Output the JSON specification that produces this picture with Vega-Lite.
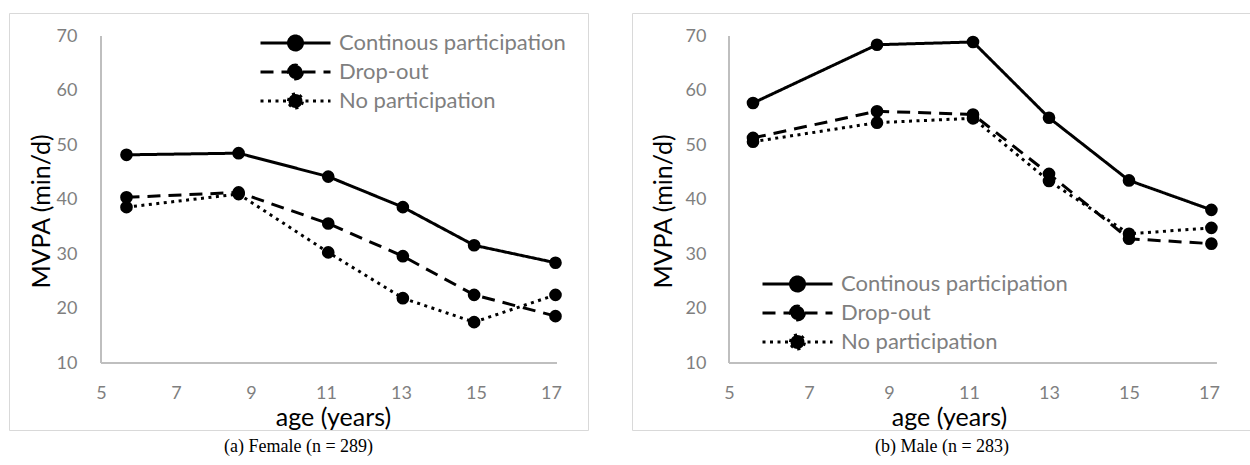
{
  "$schema": "https://vega.github.io/schema/vega-lite/v6.json",
  "background": "white",
  "padding": {"left": 8, "top": 12, "right": 0, "bottom": 0},
  "config": {
    "view": {"stroke": "#d9d9d9", "strokeWidth": 1},
    "font": "Lato",
    "axis": {
      "domain": false, "ticks": false, "tickSize": 0, "grid": false,
      "labelFont": "Lato", "labelFontSize": 18, "labelColor": "#7f7f7f",
      "labelOverlap": false, "labelFlush": false,
      "titleFont": "Lato", "titleFontSize": 25, "titleFontWeight": "normal", "titleColor": "#000000",
      "titleAlign": "center", "titleBaseline": "middle"
    },
    "legend": {
      "labelFont": "Lato", "labelFontSize": 22, "labelColor": "#7f7f7f", "labelLimit": 500,
      "padding": 0, "rowPadding": 0, "labelOffset": 7
    },
    "title": {"font": "Liberation Serif", "fontSize": 18, "fontWeight": "normal", "color": "#000000", "orient": "bottom", "anchor": "middle", "baseline": "top", "offset": 8}
  },
  "datasets": {
    "female": [
      {"age": 5.68, "mvpa": 48.2, "group": "Continous participation"},
      {"age": 8.67, "mvpa": 48.5, "group": "Continous participation"},
      {"age": 11.06, "mvpa": 44.2, "group": "Continous participation"},
      {"age": 13.05, "mvpa": 38.6, "group": "Continous participation"},
      {"age": 14.95, "mvpa": 31.6, "group": "Continous participation"},
      {"age": 17.12, "mvpa": 28.4, "group": "Continous participation"},
      {"age": 5.68, "mvpa": 40.4, "group": "Drop-out"},
      {"age": 8.67, "mvpa": 41.3, "group": "Drop-out"},
      {"age": 11.06, "mvpa": 35.6, "group": "Drop-out"},
      {"age": 13.05, "mvpa": 29.6, "group": "Drop-out"},
      {"age": 14.95, "mvpa": 22.5, "group": "Drop-out"},
      {"age": 17.12, "mvpa": 18.6, "group": "Drop-out"},
      {"age": 5.68, "mvpa": 38.6, "group": "No participation"},
      {"age": 8.67, "mvpa": 41.0, "group": "No participation"},
      {"age": 11.06, "mvpa": 30.3, "group": "No participation"},
      {"age": 13.05, "mvpa": 21.9, "group": "No participation"},
      {"age": 14.95, "mvpa": 17.5, "group": "No participation"},
      {"age": 17.12, "mvpa": 22.5, "group": "No participation"}
    ],
    "male": [
      {"age": 5.6, "mvpa": 57.7, "group": "Continous participation"},
      {"age": 8.7, "mvpa": 68.4, "group": "Continous participation"},
      {"age": 11.1, "mvpa": 68.9, "group": "Continous participation"},
      {"age": 13.0, "mvpa": 55.0, "group": "Continous participation"},
      {"age": 15.0, "mvpa": 43.5, "group": "Continous participation"},
      {"age": 17.06, "mvpa": 38.1, "group": "Continous participation"},
      {"age": 5.6, "mvpa": 51.3, "group": "Drop-out"},
      {"age": 8.7, "mvpa": 56.2, "group": "Drop-out"},
      {"age": 11.1, "mvpa": 55.6, "group": "Drop-out"},
      {"age": 13.0, "mvpa": 44.7, "group": "Drop-out"},
      {"age": 15.0, "mvpa": 32.8, "group": "Drop-out"},
      {"age": 17.06, "mvpa": 31.9, "group": "Drop-out"},
      {"age": 5.6, "mvpa": 50.6, "group": "No participation"},
      {"age": 8.7, "mvpa": 54.1, "group": "No participation"},
      {"age": 11.1, "mvpa": 54.9, "group": "No participation"},
      {"age": 13.0, "mvpa": 43.4, "group": "No participation"},
      {"age": 15.0, "mvpa": 33.7, "group": "No participation"},
      {"age": 17.06, "mvpa": 34.8, "group": "No participation"}
    ]
  },
  "resolve": {
    "scale": {"x": "independent", "y": "independent", "strokeDash": "independent"},
    "legend": {"strokeDash": "independent"}
  },
  "spacing": 42,
  "hconcat": [
    {
      "width": 579, "height": 417,
      "title": {"text": "(a) Female (n = 289)"},
      "data": {"name": "female"},
      "encoding": {
        "x": {"field": "age", "type": "quantitative",
          "scale": {"domain": [2.547, 17.987], "nice": false, "zero": false},
          "axis": {"values": [5, 7, 9, 11, 13, 15, 17], "offset": -40, "labelPadding": 3, "labelBaseline": "middle",
                   "title": "age (years)", "titleX": 324, "titleY": 27}},
        "y": {"field": "mvpa", "type": "quantitative",
          "scale": {"domain": [-2.29, 74.22], "nice": false, "zero": false},
          "axis": {"values": [10, 20, 30, 40, 50, 60, 70], "offset": -92, "labelPadding": 24,
                   "title": "MVPA (min/d)", "titleX": -60, "titleY": 198, "titleAngle": 270}}
      },
      "layer": [
        {"mark": {"type": "rule", "color": "#bfbfbf", "strokeWidth": 1.5},
         "encoding": {"x": {"datum": 5}, "y": {"datum": 10}, "y2": {"datum": 70}}},
        {"mark": {"type": "rule", "color": "#bfbfbf", "strokeWidth": 1.5},
         "encoding": {"y": {"datum": 10}, "x": {"datum": 5}, "x2": {"datum": 17.15}}},
        {"mark": {"type": "line", "color": "#000000", "strokeWidth": 3},
         "encoding": {
           "strokeDash": {"field": "group", "type": "nominal",
             "scale": {"domain": ["Continous participation", "Drop-out", "No participation"], "range": [[1, 0], [13, 8], [3, 4.5]]},
             "legend": {"orient": "none", "legendX": 250, "legendY": 15.75, "title": null,
               "symbolType": "M-1,0H1M-0.2,0A0.2,0.2,0,1,1,0.2,0A0.2,0.2,0,1,1,-0.2,0Z",
               "symbolSize": 4900, "symbolStrokeWidth": 3, "symbolStrokeColor": "#000000", "symbolFillColor": "#000000",
               "clipHeight": 28.5,
               "encode": {"symbols": {"update": {"fill": {"value": "#000000"}, "stroke": {"value": "#000000"}, "opacity": {"value": 1}}}}}
           }
         }},
        {"mark": {"type": "point", "filled": true, "color": "#000000", "size": 160, "opacity": 1},
         "encoding": {"detail": {"field": "group", "type": "nominal"}}}
      ]
    },
    {
      "width": 620, "height": 417,
      "title": {"text": "(b) Male (n = 283)"},
      "data": {"name": "male"},
      "encoding": {
        "x": {"field": "age", "type": "quantitative",
          "scale": {"domain": [2.575, 18.075], "nice": false, "zero": false},
          "axis": {"values": [5, 7, 9, 11, 13, 15, 17], "offset": -40, "labelPadding": 3, "labelBaseline": "middle",
                   "title": "age (years)", "titleX": 317, "titleY": 27}},
        "y": {"field": "mvpa", "type": "quantitative",
          "scale": {"domain": [-2.29, 74.22], "nice": false, "zero": false},
          "axis": {"values": [10, 20, 30, 40, 50, 60, 70], "offset": -97, "labelPadding": 23,
                   "title": "MVPA (min/d)", "titleX": -66, "titleY": 198, "titleAngle": 270}}
      },
      "layer": [
        {"mark": {"type": "rule", "color": "#bfbfbf", "strokeWidth": 1.5},
         "encoding": {"x": {"datum": 5}, "y": {"datum": 10}, "y2": {"datum": 70}}},
        {"mark": {"type": "rule", "color": "#bfbfbf", "strokeWidth": 1.5},
         "encoding": {"y": {"datum": 10}, "x": {"datum": 5}, "x2": {"datum": 17.18}}},
        {"mark": {"type": "line", "color": "#000000", "strokeWidth": 3},
         "encoding": {
           "strokeDash": {"field": "group", "type": "nominal",
             "scale": {"domain": ["Continous participation", "Drop-out", "No participation"], "range": [[1, 0], [13, 8], [3, 4.5]]},
             "legend": {"orient": "none", "legendX": 129, "legendY": 256.5, "title": null,
               "symbolType": "M-1,0H1M-0.2,0A0.2,0.2,0,1,1,0.2,0A0.2,0.2,0,1,1,-0.2,0Z",
               "symbolSize": 4900, "symbolStrokeWidth": 3, "symbolStrokeColor": "#000000", "symbolFillColor": "#000000",
               "clipHeight": 29,
               "encode": {"symbols": {"update": {"fill": {"value": "#000000"}, "stroke": {"value": "#000000"}, "opacity": {"value": 1}}}}}
           }
         }},
        {"mark": {"type": "point", "filled": true, "color": "#000000", "size": 160, "opacity": 1},
         "encoding": {"detail": {"field": "group", "type": "nominal"}}}
      ]
    }
  ]
}
